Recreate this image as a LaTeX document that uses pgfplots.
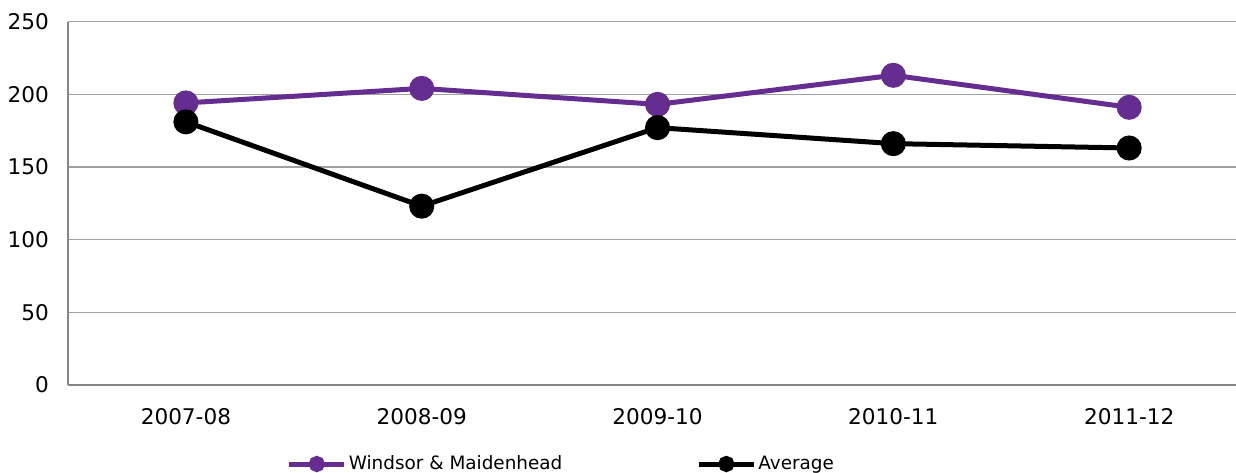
\documentclass[border=0pt]{standalone}
\usepackage{pgfplots}
\pgfplotsset{compat=1.18}
\usepackage{fontspec}
\setmainfont{DejaVu Sans}
\definecolor{wmpurple}{RGB}{102,45,145}
\definecolor{gridgray}{RGB}{160,160,160}
\definecolor{axisgray}{RGB}{134,134,134}
\begin{document}
\begin{tikzpicture}
\begin{axis}[
  at={(0,0)}, anchor=south west,
  scale only axis,
  width=584pt, height=181.75pt,
  xmin=-0.5, xmax=4.453,
  ymin=0, ymax=250,
  ytick={0,50,...,250},
  xtick={0,1,2,3,4},
  xticklabels={2007-08,2008-09,2009-10,2010-11,2011-12},
  axis x line*=bottom, axis y line*=left,
  axis line style={axisgray, line width=0.6pt, -},
  major tick length=0pt,
  ymajorgrids,
  grid style={gridgray, line width=0.6pt},
  tick label style={font=\fontsize{10.8}{12}\selectfont, black},
  /pgf/number format/assume math mode=true,
  yticklabel style={anchor=east, xshift=-6pt},
  xticklabel style={anchor=north, yshift=-8pt},
  clip=false,
  legend columns=2,
  legend style={at={(rel axis cs:0.187,0)}, anchor=west, yshift=-39.5pt,
    draw=none, fill=none, inner sep=0pt,
    font=\fontsize{9.2}{11}\selectfont,
    /tikz/every even column/.append style={column sep=66pt},
    nodes={inner xsep=1pt}},
  legend image code/.code={\draw[#1, mark size=2.8pt, mark repeat=2, mark phase=2] plot coordinates {(0pt,0pt) (13.75pt,0pt) (27.5pt,0pt)};},
]
\addplot[wmpurple, line width=2.5pt, mark=*, mark size=5pt, mark options={solid}] coordinates {
  (0,194) (1,204) (2,193) (3,213) (4,191)};
\addlegendentry{Windsor \& Maidenhead}
\addplot[black, line width=2.5pt, mark=*, mark size=5pt, mark options={solid}] coordinates {
  (0,181) (1,123) (2,177) (3,166) (4,163)};
\addlegendentry{Average}
\end{axis}
\pgfresetboundingbox
\path (-34pt,-43.5pt) rectangle (584pt,192.5pt);
\end{tikzpicture}
\end{document}
